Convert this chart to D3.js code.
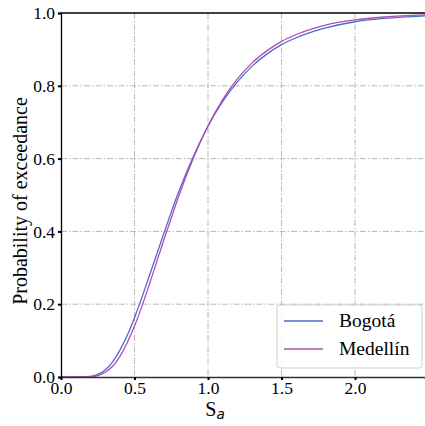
<!DOCTYPE html>
<html>
<head>
<meta charset="utf-8">
<script src="https://cdn.jsdelivr.net/npm/d3@7"></script>
<style>
  body { margin: 0; background: #fff; }
  svg { display: block; }
  text { font-family: "Liberation Serif", "Times New Roman", serif; fill: #000; }
</style>
</head>
<body>
<svg id="chart" width="425" height="426"></svg>
<script>
var sa = [0, 0.1, 0.2, 0.25, 0.3, 0.35, 0.4, 0.45, 0.5, 0.55, 0.6, 0.65, 0.7, 0.75, 0.8,
          0.9, 1.0, 1.1, 1.2, 1.3, 1.4, 1.5, 1.6, 1.8, 2.0, 2.2, 2.48];
var bogota = [0, 0, 0.002, 0.007, 0.019, 0.041, 0.073, 0.114, 0.163, 0.218, 0.277, 0.336, 0.395, 0.453, 0.508,
              0.606, 0.689, 0.757, 0.811, 0.854, 0.887, 0.913, 0.932, 0.959, 0.976, 0.985, 0.992];
var medellin = [0, 0, 0.001, 0.004, 0.013, 0.029, 0.056, 0.094, 0.140, 0.194, 0.253, 0.315, 0.377, 0.437, 0.496,
                0.601, 0.690, 0.762, 0.819, 0.863, 0.896, 0.922, 0.941, 0.967, 0.981, 0.989, 0.995];
var seriesNames = ["Bogotá", "Medellín"];
var seriesColors = ["#4a6cc8", "#b04cb4"];
var xTicks = [0, 0.5, 1.0, 1.5, 2.0];
var yTicks = [0, 0.2, 0.4, 0.6, 0.8, 1.0];

var svg = d3.select("#chart");
var mLeft = 61, mTop = 13, mRight = 425, mBottom = 377;

var x = d3.scaleLinear().domain([0, 2.476]).range([mLeft, mRight]);
var y = d3.scaleLinear().domain([0, 1]).range([mBottom, mTop]);

// grid
var grid = svg.append("g");
grid.selectAll(".vg").data(xTicks.slice(1))
  .enter().append("line")
    .attr("x1", function(d) { return x(d); }).attr("x2", function(d) { return x(d); })
    .attr("y1", mTop).attr("y2", mBottom)
    .attr("stroke", "#b0b0b0").attr("stroke-width", 0.9)
    .attr("stroke-dasharray", "6,2,1.5,2");
grid.selectAll(".hg").data(yTicks.slice(1, -1))
  .enter().append("line")
    .attr("x1", mLeft).attr("x2", mRight)
    .attr("y1", function(d) { return y(d); }).attr("y2", function(d) { return y(d); })
    .attr("stroke", "#b0b0b0").attr("stroke-width", 0.9)
    .attr("stroke-dasharray", "6,2,1.5,2");

// curves
var data = [bogota, medellin];
var line = d3.line()
  .x(function(d, i) { return x(sa[i]); })
  .y(function(d) { return y(d); })
  .curve(d3.curveMonotoneX);

svg.append("defs").append("clipPath").attr("id", "clip")
  .append("rect").attr("x", mLeft).attr("y", mTop - 2).attr("width", mRight - mLeft).attr("height", mBottom - mTop + 2);

svg.append("g").attr("clip-path", "url(#clip)")
  .selectAll("path").data(data)
  .enter().append("path")
    .attr("d", line)
    .attr("fill", "none")
    .attr("stroke", function(d, i) { return seriesColors[i]; })
    .attr("stroke-width", 1.3);

// axes
var xAxis = svg.append("g").attr("transform", "translate(0," + mBottom + ")")
  .call(d3.axisBottom(x).tickValues(xTicks).tickFormat(d3.format(".1f")).tickSize(3).tickPadding(2));
var yAxis = svg.append("g").attr("transform", "translate(" + mLeft + ",0)")
  .call(d3.axisLeft(y).tickValues(yTicks).tickFormat(d3.format(".1f")).tickSize(3).tickPadding(3));

[xAxis, yAxis].forEach(function(a) {
  a.select(".domain").attr("stroke", "#000").attr("stroke-width", 1.3);
  a.selectAll(".tick line").attr("stroke", "#000").attr("stroke-width", 2);
  a.selectAll(".tick text").style("font-family", "Liberation Serif").style("font-size", "17.5px");
});
xAxis.select(".domain").attr("stroke", "#333");

// top spine
svg.append("line").attr("x1", mLeft).attr("x2", mRight).attr("y1", mTop).attr("y2", mTop)
  .attr("stroke", "#000").attr("stroke-width", 1.3);

// axis labels
svg.append("text")
  .attr("transform", "translate(27,201) rotate(-90)")
  .attr("text-anchor", "middle")
  .style("font-size", "20px")
  .text("Probability of exceedance");

var xl = svg.append("text").attr("x", 215).attr("y", 415.5).attr("text-anchor", "middle")
  .style("font-size", "20px");
xl.append("tspan").text("S");
xl.append("tspan").attr("dy", 3).style("font-family", "DejaVu Sans").style("font-style", "italic")
  .style("font-size", "13.5px").text("a");

// legend
var lg = svg.append("g").attr("transform", "translate(277,305)");
lg.append("rect").attr("width", 145).attr("height", 63).attr("rx", 3)
  .attr("fill", "#fff").attr("fill-opacity", 0.85).attr("stroke", "#d0d0d0");
seriesNames.forEach(function(name, i) {
  var yy = 16 + i * 28;
  lg.append("line").attr("x1", 7).attr("x2", 46).attr("y1", yy).attr("y2", yy)
    .attr("stroke", seriesColors[i]).attr("stroke-width", 1.3);
  lg.append("text").attr("x", 62).attr("y", yy + 6).style("font-size", "19.5px").text(name);
});
</script>
</body>
</html>
